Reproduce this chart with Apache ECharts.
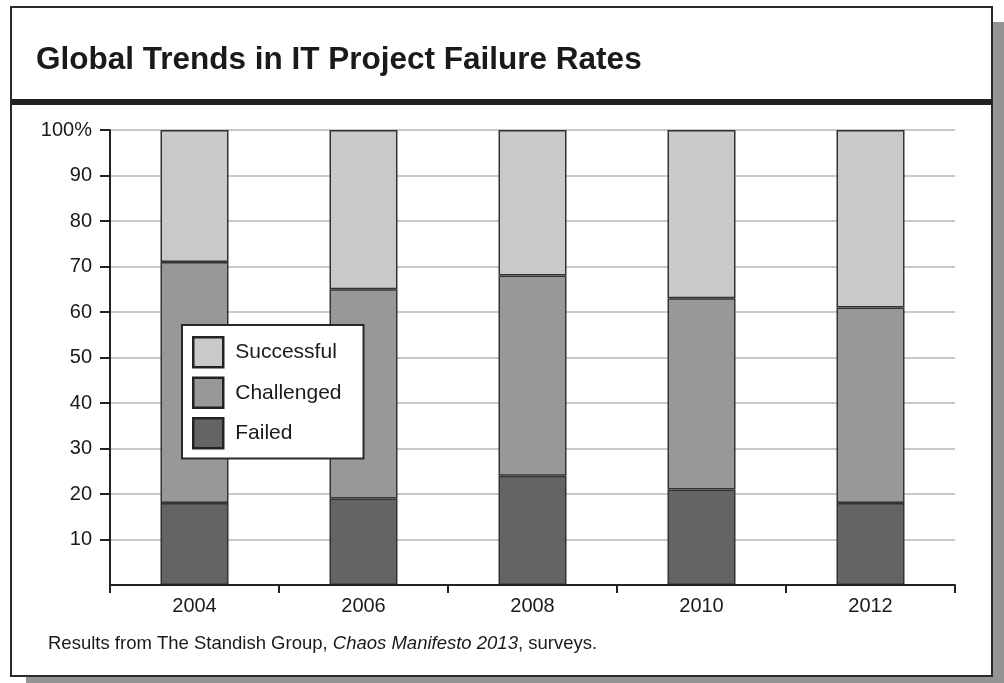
<!DOCTYPE html>
<html>
<head>
<meta charset="utf-8">
<script src="https://cdn.jsdelivr.net/npm/echarts@6/dist/echarts.min.js"></script>
<style>html,body{margin:0;padding:0;background:#fff;}#c{width:1004px;height:683px;}</style>
</head>
<body>
<div id="c"></div>
<script>
var categories = ['2004', '2006', '2008', '2010', '2012'];
var failed = [18, 19, 24, 21, 18];
var challenged = [53, 46, 44, 42, 43];
var successful = [29, 35, 32, 37, 39];
var yTicks = [10, 20, 30, 40, 50, 60, 70, 80, 90, 100];
var legendOrder = ['Successful', 'Challenged', 'Failed'];
var titleText = 'Global Trends in IT Project Failure Rates';

var FONT = '"Liberation Sans", Arial, Helvetica, sans-serif';
var chart = echarts.init(document.getElementById('c'));
var border = '#2a2a2a';
function bar(name, data, color) {
  return {
    name: name, type: 'bar', stack: 'all', data: data, barWidth: 68,
    itemStyle: { color: color, borderColor: '#333', borderWidth: 1.5 },
    emphasis: { disabled: true }
  };
}
chart.setOption({
  animation: false,
  backgroundColor: '#fff',
  textStyle: { fontFamily: FONT },
  grid: { left: 110, right: 49, top: 130, bottom: 98 },
  graphic: [
    { type: 'rect', z: -10, shape: { x: 26, y: 22, width: 1000, height: 700 }, style: { fill: '#939496' } },
    { type: 'rect', z: -9, shape: { x: 11, y: 7, width: 981, height: 669 }, style: { fill: '#fff', stroke: border, lineWidth: 2 } },
    { type: 'rect', z: -8, shape: { x: 11, y: 99, width: 981, height: 6 }, style: { fill: '#222' } },
    { type: 'text', left: 36, top: 44, style: { text: titleText, font: 'bold 31.5px ' + FONT, fill: '#1a1a1a' } },
    { type: 'text', left: 48, top: 634, style: {
        text: '{n|Results from The Standish Group, }{i|Chaos Manifesto 2013}{n|, surveys.}',
        rich: {
          n: { font: '18.5px ' + FONT, fill: '#1a1a1a' },
          i: { font: 'italic 18.5px ' + FONT, fill: '#1a1a1a' }
        }
    } }
  ],
  legend: {
    data: legendOrder, orient: 'vertical', left: 182, top: 325,
    backgroundColor: '#fff', borderColor: border, borderWidth: 2,
    padding: [11, 22, 9, 10], itemWidth: 30, itemHeight: 30, itemGap: 8,
    icon: 'rect',
    itemStyle: { borderColor: '#222', borderWidth: 2.5 },
    textStyle: { fontSize: 21, color: '#1a1a1a', fontFamily: FONT, padding: [0, 0, 0, 7] },
    selectedMode: false
  },
  xAxis: {
    type: 'category', data: categories, boundaryGap: true,
    axisLine: { lineStyle: { color: '#222', width: 2 } },
    axisTick: { show: true, alignWithLabel: false, length: 8, lineStyle: { color: '#222', width: 2 } },
    axisLabel: { fontSize: 20, color: '#1a1a1a', margin: 11, fontFamily: FONT },
    z: 10
  },
  yAxis: {
    type: 'value', min: 0, max: 100, interval: 10,
    axisLine: { show: true, lineStyle: { color: '#222', width: 2 } },
    axisTick: { show: true, length: 10, customValues: yTicks, lineStyle: { color: '#222', width: 2 } },
    axisLabel: { fontSize: 20, color: '#1a1a1a', margin: 18, fontFamily: FONT, customValues: yTicks,
      formatter: function (v) { return v === 100 ? '100%' : String(v); } },
    splitLine: { show: true, lineStyle: { color: '#c8c8c8', width: 2 } }
  },
  series: [
    bar('Failed', failed, '#636466'),
    bar('Challenged', challenged, '#97989a'),
    bar('Successful', successful, '#c8c9cb')
  ]
});
</script>
</body>
</html>
